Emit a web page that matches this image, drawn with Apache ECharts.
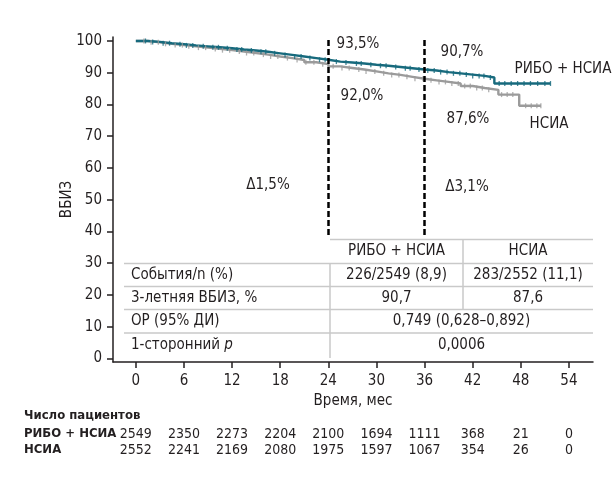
<!DOCTYPE html>
<html><head><meta charset="utf-8">
<script src="https://cdn.jsdelivr.net/npm/echarts@6/dist/echarts.min.js"></script>
<style>html,body{margin:0;padding:0;background:#fff}#c{width:613px;height:481px}</style>
</head><body><div id="c"></div>
<script>
// ---- data ----
const riboTimes = [0,1.5,3,4.5,6,7.5,9,10.5,12,13.5,15,16.5,18,19.5,21,22.5,24,25.5,27,28.5,30,31.5,33,34.5,36,37.5,39,40.5,42,43.5,44.7,51.7];
const riboSurv  = [100,99.7,99.3,99.0,98.6,98.3,98.0,97.7,97.3,97.0,96.6,96.1,95.6,95.1,94.6,94.1,93.5,93.2,92.9,92.5,92.2,91.8,91.4,91.0,90.7,90.2,89.8,89.4,89.0,88.5,86.6,86.6];
const nsiaTimes = [0,1.5,3,4.5,6,7.5,9,10.5,12,13.5,15,16.5,18,19.5,21,22.5,24,25.5,27,28.5,30,31.5,33,34.5,36,37.5,39,40.5,42,43.5,45.2,47.8,50.5];
const nsiaSurv  = [100,99.6,99.1,98.7,98.3,97.9,97.5,97.1,96.7,96.2,95.7,95.1,94.6,94.0,93.3,92.7,92.0,91.5,91.0,90.4,89.8,89.3,88.7,88.1,87.6,87.1,86.6,85.8,85.2,84.6,83.1,79.6,79.6];
const riboCensor = [1.2,2.1,3.4,4.2,5.5,6.3,7.1,8.4,9.6,10.3,11.4,12.6,13.2,14.4,15.6,16.2,17.3,18.6,19.8,20.6,21.7,22.9,23.6,25.0,26.2,27.5,28.1,29.3,30.5,31.2,32.4,33.6,34.2,35.3,36.4,37.2,38.0,38.8,39.6,40.4,41.2,42.0,42.8,43.4,44.2,45.3,46.0,46.8,47.6,48.4,49.2,50.1,51.0,51.7];
const nsiaCensor = [1.0,1.9,2.8,3.7,4.9,5.8,6.6,7.8,8.7,9.9,10.8,11.7,12.9,13.8,14.7,15.9,16.8,17.7,18.9,20.1,21.2,22.2,23.3,24.6,25.7,26.6,27.8,28.7,29.8,30.9,31.9,32.8,33.8,34.8,35.8,36.8,37.8,38.6,39.4,40.2,41.0,41.7,42.5,43.2,44.0,45.6,46.3,47.0,48.6,49.3,50.0,50.5];
const tickMonths = [0,6,12,18,24,30,36,42,48,54];
const yTicks = [0,10,20,30,40,50,60,70,80,90,100];
const riskRibo = [2549,2350,2273,2204,2100,1694,1111,368,21,0];
const riskNsia = [2552,2241,2169,2080,1975,1597,1067,354,26,0];
const landmarks = [24,36];
const seriesNames = ['РИБО + НСИА','НСИА'];
const landmarkLabels = ['93,5%','90,7%','92,0%','87,6%'];
const deltaLabels = ['Δ1,5%','Δ3,1%'];
const tableHead = ['РИБО + НСИА','НСИА'];
const tableRowLabels = ['События/n (%)','3-летняя ВБИЗ, %','ОР (95% ДИ)','1-сторонний '];
const tableRibo = ['226/2549 (8,9)','90,7'];
const tableNsia = ['283/2552 (11,1)','87,6'];
const tableMerged = ['0,749 (0,628–0,892)','0,0006'];

// ---- helpers ----
const F = "'Liberation Sans Narrow','DejaVu Sans Condensed','Roboto Condensed',sans-serif";
const INK = '#231f20';
const TEAL = '#176a7d';
const GREY = '#9b9b9b';
const FS = 15;
function survAt(ts, vs, t){ let v = vs[0]; for (let i=0;i<ts.length;i++){ if (ts[i] <= t) v = vs[i]; } return v; }
const riboLine = riboTimes.map((t,i)=>[t,riboSurv[i]]);
const nsiaLine = nsiaTimes.map((t,i)=>[t,nsiaSurv[i]]);
const riboCens = riboCensor.map(t=>[t,survAt(riboTimes,riboSurv,t)]);
const nsiaCens = nsiaCensor.map(t=>[t,survAt(nsiaTimes,nsiaSurv,t)]);

const chart = echarts.init(document.getElementById('c'), null, {renderer:'canvas'});
const xBase = {type:'value', min:-2.85, max:57, gridIndex:0, position:'bottom'};
function txt(x,y,s,opt){ return {type:'text', x:x, y:y, style:Object.assign({text:s, font:FS+'px '+F, fill:INK, align:'center', verticalAlign:'middle'}, opt||{})}; }
function ln(x1,y1,x2,y2){ return {type:'line', shape:{x1:x1,y1:y1,x2:x2,y2:y2}, style:{stroke:'#c9c9c9', lineWidth:1.5}}; }

const TL = 124, TC = 330, TM = 463, TR = 593;
const rowY = [251, 275, 298, 321, 345];
const graphics = [
  ln(TC,239.5,TR,239.5), ln(TL,263.5,TR,263.5), ln(TL,286.5,TR,286.5), ln(TL,309.5,TR,309.5), ln(TL,333,TR,333),
  ln(TC,263.5,TC,358), ln(TM,239.5,TM,309.5),
  txt((TC+TM)/2,rowY[0],tableHead[0]), txt((TM+TR)/2,rowY[0],tableHead[1]),
  txt(131,rowY[1],tableRowLabels[0],{align:'left'}),
  txt(131,rowY[2],tableRowLabels[1],{align:'left'}),
  txt(131,rowY[3],tableRowLabels[2],{align:'left'}),
  {type:'text', x:131, y:rowY[4], style:{text:'{a|'+tableRowLabels[3]+'}{b|p}', align:'left', verticalAlign:'middle', rich:{a:{font:FS+'px '+F, fill:INK}, b:{font:'italic '+FS+'px '+F, fill:INK}}}},
  txt((TC+TM)/2,rowY[1],tableRibo[0]), txt((TM+TR)/2,rowY[1],tableNsia[0]),
  txt((TC+TM)/2,rowY[2],tableRibo[1]), txt((TM+TR)/2,rowY[2],tableNsia[1]),
  txt((TC+TR)/2,rowY[3],tableMerged[0]), txt((TC+TR)/2,rowY[4],tableMerged[1]),
  txt(358,44,landmarkLabels[0]), txt(462,52,landmarkLabels[1]),
  txt(362,96,landmarkLabels[2]), txt(468,119,landmarkLabels[3]),
  txt(563,69,seriesNames[0]), txt(549,124,seriesNames[1]),
  txt(268,185,deltaLabels[0]), txt(467,187,deltaLabels[1]),
  txt(24,416,'Число пациентов',{align:'left', font:'bold 13px '+F}),
  txt(24,434,seriesNames[0],{align:'left', font:'bold 13px '+F}),
  txt(24,450,seriesNames[1],{align:'left', font:'bold 13px '+F})
];

const option = {
  animation:false,
  backgroundColor:'#fff',
  grid:{left:113, right:20, top:37, bottom:119, containLabel:false},
  xAxis:[
    Object.assign({}, xBase, {
      name:'Время, мес', nameLocation:'middle', nameGap:29,
      nameTextStyle:{fontFamily:F, fontSize:FS, color:INK},
      axisLine:{show:true, onZero:false, lineStyle:{color:INK, width:1.5}},
      axisTick:{show:true, length:6, customValues:tickMonths, lineStyle:{color:INK, width:1.5}},
      axisLabel:{customValues:tickMonths, margin:12, fontFamily:F, fontSize:FS, color:INK},
      splitLine:{show:false}
    }),
    Object.assign({}, xBase, {
      offset:72,
      axisLine:{show:false, onZero:false}, axisTick:{show:false}, splitLine:{show:false},
      axisLabel:{customValues:tickMonths, margin:0, verticalAlign:'middle', fontFamily:F, fontSize:14, color:INK,
        formatter:v=>{const i=tickMonths.indexOf(Math.round(v)); return i<0?'':String(riskRibo[i]);}}
    }),
    Object.assign({}, xBase, {
      offset:88,
      axisLine:{show:false, onZero:false}, axisTick:{show:false}, splitLine:{show:false},
      axisLabel:{customValues:tickMonths, margin:0, verticalAlign:'middle', fontFamily:F, fontSize:14, color:INK,
        formatter:v=>{const i=tickMonths.indexOf(Math.round(v)); return i<0?'':String(riskNsia[i]);}}
    })
  ],
  yAxis:{
    type:'value', min:-1.15, max:101.25,
    name:'ВБИЗ', nameLocation:'middle', nameGap:46, nameMoveOverlap:false,
    nameTextStyle:{fontFamily:F, fontSize:FS, color:INK, verticalAlign:'middle'},
    axisLine:{show:true, onZero:false, lineStyle:{color:INK, width:1.5}},
    axisTick:{show:true, length:6, customValues:yTicks, lineStyle:{color:INK, width:1.5}},
    axisLabel:{customValues:yTicks, margin:11, fontFamily:F, fontSize:FS, color:INK},
    splitLine:{show:false}
  },
  series:[
    {type:'line', name:seriesNames[1], data:nsiaLine, step:'end', symbol:'none', lineStyle:{color:GREY, width:2.4}, z:2},
    {type:'line', name:seriesNames[0], data:riboLine, step:'end', symbol:'none', lineStyle:{color:TEAL, width:2.4}, z:3,
      markLine:{silent:true, symbol:'none', label:{show:false},
        lineStyle:{color:'#000', width:2.5, type:[6,3]},
        data: landmarks.map(m=>[{coord:[m,100.3]},{coord:[m,38.2]}])}},
    {type:'scatter', data:nsiaCens, symbol:'rect', symbolSize:[1.3,5], itemStyle:{color:GREY}, z:4},
    {type:'scatter', data:riboCens, symbol:'rect', symbolSize:[1.3,5], itemStyle:{color:TEAL}, z:5}
  ],
  graphic: graphics
};
chart.setOption(option);
</script>
</body></html>
